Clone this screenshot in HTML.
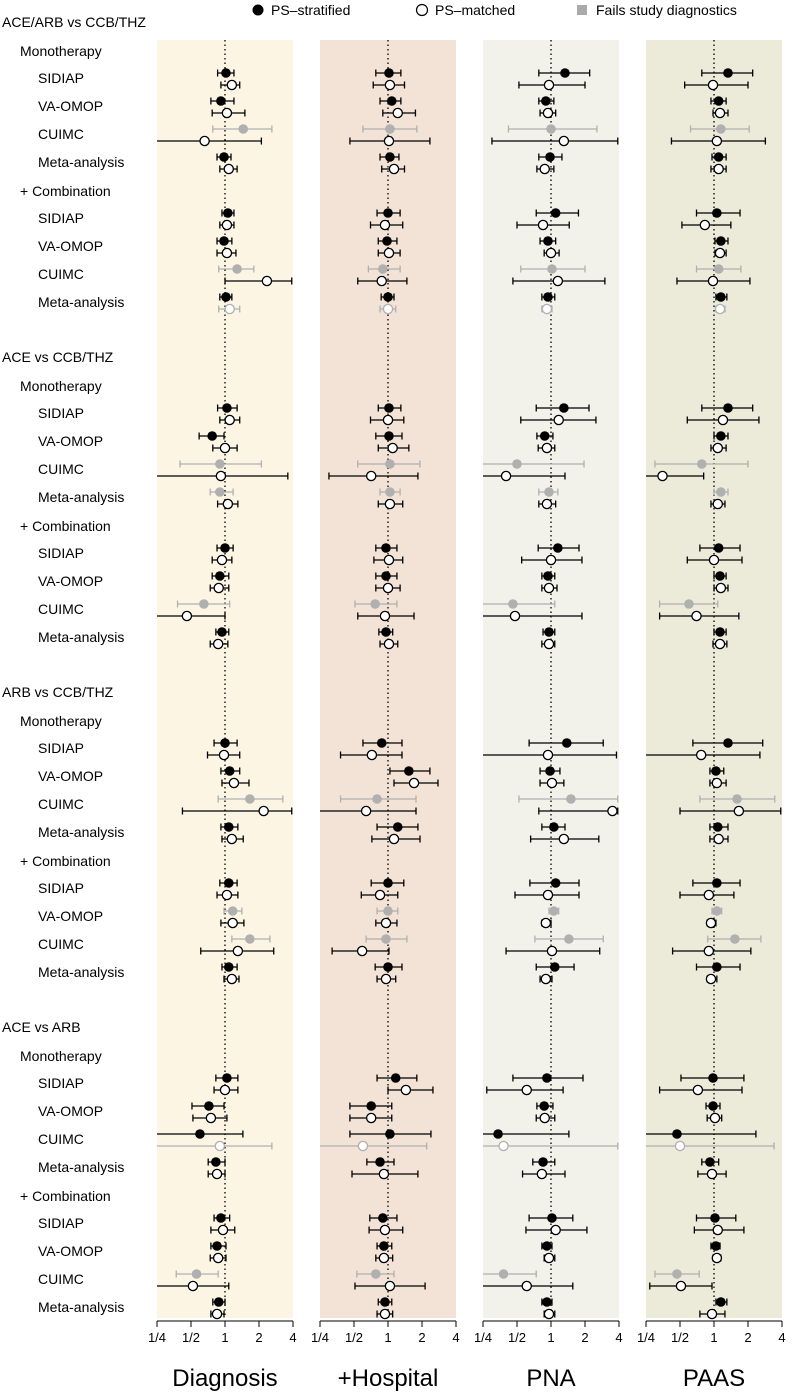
<!DOCTYPE html>
<html><head><meta charset="utf-8">
<style>
html,body{margin:0;padding:0;background:#fff;}
svg{display:block;font-family:"Liberation Sans",sans-serif;}
</style></head>
<body>
<svg id="chart" width="792" height="1399" viewBox="0 0 792 1399"></svg>
<script>
const sections = ["ACE/ARB vs CCB/THZ","ACE vs CCB/THZ","ARB vs CCB/THZ","ACE vs ARB"];
const rowLabels = ["SIDIAP","VA-OMOP","CUIMC","Meta-analysis"];
const panelTitles = ["Diagnosis","+Hospital","PNA","PAAS"];
const tickValues = [0.25,0.5,1,2,4];
const tickLabels = ["1/4","1/2","1","2","4"];
// gray flags per row (32 rows): [filledGray, openGray]
const grayFlags = [
 [0,0],[0,0],[1,0],[0,0],[0,0],[0,0],[1,0],[0,1],
 [0,0],[0,0],[1,0],[1,0],[0,0],[0,0],[1,0],[0,0],
 [0,0],[0,0],[1,0],[0,0],[0,0],[1,0],[1,0],[0,0],
 [0,0],[0,0],[0,1],[0,0],[0,0],[0,0],[1,0],[0,0]];
// each row: [filledEst, lo, hi, openEst, lo, hi]
const diagnosisData = [
 [1.02,0.86,1.2,1.15,0.92,1.35],[0.92,0.75,1.2,1.04,0.77,1.5],[1.45,0.78,2.6,0.66,0.25,2.1],[0.98,0.85,1.13,1.08,0.9,1.28],
 [1.06,0.94,1.2,1.04,0.9,1.2],[0.98,0.85,1.15,1.04,0.85,1.25],[1.28,0.88,1.8,2.35,1.0,3.9],[1.02,0.9,1.15,1.1,0.88,1.35],
 [1.04,0.86,1.28,1.1,0.9,1.35],[0.77,0.59,0.98,1.0,0.78,1.28],[0.9,0.4,2.1,0.92,0.25,3.6],[0.9,0.74,1.18,1.06,0.86,1.3],
 [1.0,0.85,1.18,0.94,0.77,1.15],[0.9,0.77,1.08,0.88,0.74,1.08],[0.65,0.38,1.1,0.46,0.25,1.0],[0.94,0.83,1.08,0.87,0.74,1.06],
 [1.0,0.8,1.28,0.98,0.7,1.35],[1.1,0.92,1.35,1.2,0.94,1.63],[1.66,0.87,3.25,2.2,0.42,3.9],[1.08,0.92,1.3,1.15,0.94,1.45],
 [1.08,0.9,1.28,1.04,0.85,1.3],[1.17,0.98,1.41,1.17,0.92,1.47],[1.66,1.15,2.5,1.3,0.61,2.7],[1.08,0.94,1.28,1.15,0.98,1.33],
 [1.04,0.83,1.3,1.0,0.8,1.3],[0.72,0.51,0.98,0.75,0.52,1.04],[0.6,0.25,1.44,0.9,0.25,2.6],[0.83,0.71,1.0,0.85,0.71,1.0],
 [0.92,0.8,1.1,0.96,0.75,1.22],[0.85,0.75,1.02,0.87,0.74,1.02],[0.56,0.37,0.87,0.52,0.25,1.08],[0.88,0.78,1.0,0.85,0.75,0.98]];
const hospitalData = [
 [1.02,0.78,1.3,1.04,0.74,1.4],[1.08,0.85,1.3,1.22,0.9,1.75],[1.04,0.6,1.8,1.02,0.46,2.35],[1.04,0.85,1.25,1.13,0.88,1.4],
 [1.0,0.8,1.28,0.94,0.7,1.35],[0.98,0.82,1.2,1.02,0.82,1.28],[0.9,0.67,1.28,0.88,0.54,1.47],[1.0,0.87,1.13,1.0,0.85,1.17],
 [1.02,0.82,1.3,1.0,0.7,1.38],[1.02,0.78,1.33,1.1,0.82,1.53],[1.04,0.54,1.92,0.71,0.3,1.84],[1.04,0.85,1.28,1.04,0.82,1.35],
 [0.96,0.78,1.2,1.02,0.75,1.35],[0.96,0.78,1.2,1.0,0.78,1.28],[0.77,0.51,1.2,0.94,0.54,1.7],[0.96,0.83,1.1,1.02,0.85,1.22],
 [0.88,0.6,1.33,0.72,0.38,1.33],[1.53,1.04,2.35,1.7,1.13,2.77],[0.8,0.38,1.77,0.64,0.25,1.77],[1.22,0.8,1.84,1.13,0.72,1.92],
 [1.0,0.71,1.38,0.85,0.58,1.22],[1.0,0.8,1.22,0.96,0.78,1.2],[0.96,0.64,1.47,0.59,0.32,1.02],[1.0,0.77,1.33,0.96,0.8,1.17],
 [1.17,0.8,1.8,1.44,1.0,2.5],[0.71,0.46,1.08,0.71,0.46,1.08],[1.04,0.46,2.4,0.6,0.25,2.2],[0.85,0.65,1.13,0.92,0.48,1.84],
 [0.9,0.69,1.2,0.94,0.68,1.35],[0.92,0.8,1.08,0.92,0.78,1.1],[0.78,0.53,1.13,1.04,0.51,2.13],[0.94,0.82,1.08,0.94,0.8,1.1]];
const pnaData = [
 [1.33,0.78,2.2,0.96,0.52,2.0],[0.9,0.78,1.06,0.94,0.8,1.1],[1.0,0.42,2.55,1.3,0.3,3.9],[0.98,0.78,1.25,0.88,0.75,1.06],
 [1.1,0.74,1.75,0.85,0.5,1.45],[0.94,0.8,1.1,1.0,0.87,1.18],[1.02,0.54,2.0,1.15,0.46,3.0],[0.94,0.83,1.08,0.92,0.83,1.02],
 [1.3,0.74,2.17,1.17,0.54,2.5],[0.88,0.75,1.04,0.92,0.77,1.08],[0.5,0.25,1.96,0.4,0.25,1.33],[0.96,0.78,1.15,0.92,0.78,1.1],
 [1.15,0.77,1.77,1.0,0.55,1.88],[0.94,0.83,1.08,0.96,0.83,1.13],[0.46,0.25,1.08,0.48,0.25,1.88],[0.96,0.85,1.08,0.96,0.83,1.08],
 [1.38,0.64,2.9,0.94,0.25,3.8],[0.98,0.8,1.2,1.02,0.8,1.3],[1.5,0.52,3.9,3.5,0.78,3.9],[1.06,0.83,1.33,1.3,0.66,2.65],
 [1.1,0.65,1.77,0.94,0.48,1.77],[1.06,0.96,1.17,0.9,0.83,1.0],[1.44,0.72,2.9,1.02,0.4,2.7],[1.08,0.74,1.6,0.9,0.8,1.02],
 [0.92,0.46,1.92,0.61,0.27,1.28],[0.87,0.75,1.04,0.88,0.74,1.08],[0.34,0.25,1.44,0.38,0.25,3.9],[0.85,0.69,1.08,0.83,0.56,1.33],
 [1.02,0.64,1.56,1.1,0.6,2.08],[0.92,0.83,1.02,0.96,0.87,1.08],[0.38,0.25,0.74,0.61,0.25,1.56],[0.92,0.83,1.02,0.96,0.87,1.08]];
const paasData = [
 [1.33,0.78,2.2,0.98,0.55,2.0],[1.1,0.94,1.28,1.13,0.98,1.33],[1.15,0.62,2.05,1.06,0.42,2.85],[1.1,0.96,1.28,1.1,0.94,1.28],
 [1.06,0.7,1.7,0.83,0.52,1.41],[1.15,1.02,1.33,1.13,1.02,1.28],[1.1,0.7,1.73,0.98,0.47,2.08],[1.15,1.04,1.3,1.13,1.04,1.25],
 [1.33,0.78,2.2,1.2,0.58,2.5],[1.15,1.0,1.33,1.08,0.94,1.28],[0.78,0.3,2.0,0.35,0.25,0.81],[1.15,1.0,1.33,1.08,0.94,1.25],
 [1.1,0.75,1.7,1.0,0.58,1.77],[1.13,1.0,1.28,1.15,1.0,1.33],[0.6,0.33,1.08,0.7,0.33,1.66],[1.13,1.0,1.28,1.13,0.98,1.3],
 [1.33,0.65,2.7,0.77,0.25,2.55],[1.04,0.92,1.22,1.06,0.92,1.28],[1.6,0.75,3.45,1.66,0.5,3.9],[1.08,0.92,1.33,1.1,0.92,1.33],
 [1.06,0.65,1.7,0.9,0.5,1.5],[1.06,0.96,1.17,0.94,0.87,1.04],[1.53,0.88,2.6,0.9,0.43,2.12],[1.06,0.7,1.7,0.94,0.87,1.06],
 [0.98,0.51,1.84,0.72,0.33,1.77],[0.98,0.85,1.13,1.02,0.87,1.17],[0.47,0.25,2.35,0.5,0.25,3.4],[0.92,0.78,1.1,0.96,0.72,1.28],
 [1.02,0.7,1.56,1.08,0.67,1.84],[1.04,0.94,1.13,1.06,0.98,1.15],[0.47,0.3,0.74,0.51,0.27,0.96],[1.15,1.04,1.3,0.96,0.75,1.25]];
const panelData = [diagnosisData, hospitalData, pnaData, paasData];

const NS = "http://www.w3.org/2000/svg";
const svg = document.getElementById("chart");
function mk(tag, attrs, parent, text){
  const e = document.createElementNS(NS, tag);
  for (const k in attrs) e.setAttribute(k, attrs[k]);
  if (text !== undefined) e.textContent = text;
  (parent||svg).appendChild(e);
  return e;
}
const panelLeft = [157,320,483,646];
const panelW = 136;
const bgColors = ["#fdf5e4","#f3e3d6","#f3f2ea","#ecead9"];
const plotTop = 40, plotBottom = 1318;
function xScale(p, v){
  v = Math.max(0.25, Math.min(4, v));
  return panelLeft[p] + (Math.log2(v) + 2) / 4 * panelW;
}
function secY(s){ return 22 + s * 335; }
function rowY(r){ const s = Math.floor(r/8), k = r % 8; return secY(s) + (k < 4 ? 56 + 28*k : 196 + 28*(k-4)); }

for (let p=0;p<4;p++){
  const bg = mk("rect",{x:panelLeft[p],y:plotTop,width:panelW,height:plotBottom-plotTop,fill:bgColors[p]});
  
  
  const ref = mk("line",{x1:xScale(p,1),x2:xScale(p,1),y1:plotTop,y2:plotBottom,stroke:"#000","stroke-width":1.3,"stroke-dasharray":"1.5,3"});
  
  
}
const lg = mk("g",{});


mk("circle",{cx:258,cy:10,r:5.5,fill:"#000"},lg);
mk("text",{x:271,y:15,"font-size":14},lg,"PS–stratified");
mk("circle",{cx:422,cy:10,r:5.5,fill:"#fff",stroke:"#000","stroke-width":1.2},lg);
mk("text",{x:435,y:15,"font-size":14},lg,"PS–matched");
mk("rect",{x:577,y:5,width:10,height:10,fill:"#aaa"},lg);
mk("text",{x:596,y:15,"font-size":14},lg,"Fails study diagnostics");

for (let s=0;s<4;s++){
  const y = secY(s);
  const h = mk("text",{x:2,y:y+5,"font-size":14},svg,sections[s]);
  
  
  const m = mk("text",{x:20,y:y+34,"font-size":14},svg,"Monotherapy");
  
  
  const c = mk("text",{x:20,y:y+174,"font-size":14},svg,"+ Combination");
  
  
}
for (let r=0;r<32;r++){
  const t = mk("text",{x:38,y:rowY(r)+5,"font-size":14},svg,rowLabels[r%4]);
  
  
}
for (let p=0;p<4;p++){
  const data = panelData[p];
  for (let r=0;r<32;r++){
    const d = data[r], yc = rowY(r);
    for (let m=0;m<2;m++){
      const est=d[m*3], lo=d[m*3+1], hi=d[m*3+2];
      const y = m===0 ? yc-5 : yc+7;
      const col = grayFlags[r][m] ? "#b0b0b0" : "#000";
      const x1 = xScale(p,lo), x2 = xScale(p,hi);
      const g = mk("g",{});
      
      
      mk("line",{x1:x1,x2:x2,y1:y,y2:y,stroke:col,"stroke-width":1.3},g);
      if (lo>0.25) mk("line",{x1:x1,x2:x1,y1:y-3.5,y2:y+3.5,stroke:col,"stroke-width":1.3},g);
      if (hi<4) mk("line",{x1:x2,x2:x2,y1:y-3.5,y2:y+3.5,stroke:col,"stroke-width":1.3},g);
      const cx = xScale(p,est);
      if (m===0) mk("circle",{cx:cx,cy:y,r:4.8,fill:col},g);
      else mk("circle",{cx:cx,cy:y,r:4.6,fill:"#fff",stroke:col,"stroke-width":1.3},g);
    }
  }
  const ax = mk("g",{});
  
  
  mk("line",{x1:xScale(p,0.25),x2:xScale(p,4),y1:1321,y2:1321,stroke:"#000","stroke-width":1},ax);
  for (let i=0;i<tickValues.length;i++){
    const x = xScale(p,tickValues[i]);
    mk("line",{x1:x,x2:x,y1:1321,y2:1327,stroke:"#000","stroke-width":1},ax);
    mk("text",{x:x,y:1342,"font-size":13,"text-anchor":"middle"},ax,tickLabels[i]);
  }
  const tt = mk("text",{x:panelLeft[p]+panelW/2,y:1386,"font-size":24,"text-anchor":"middle"},svg,panelTitles[p]);
  
  
}
</script>
</body></html>
